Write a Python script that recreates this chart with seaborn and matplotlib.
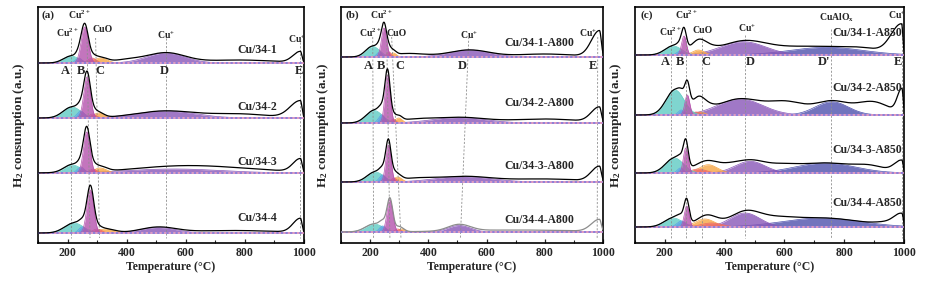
import numpy as np
import pandas as pd
import matplotlib
matplotlib.use("Agg")
import matplotlib.pyplot as plt
import seaborn as sns

# ---------------------------------------------------------------
# Deconvoluted H2-TPR peaks.
# each peak: (component, centre degC, height a.u., width degC)
# ---------------------------------------------------------------
a_names = ["Cu/34-1", "Cu/34-2", "Cu/34-3", "Cu/34-4"]
a_peaks = [
    [("A", 212, 7, 26), ("Bb", 238, 5, 11), ("B", 258, 36, 12), ("r", 283, 5, 14), ("C", 312, 5, 22), ("D", 532, 10, 65)],
    [("A", 215, 11, 30), ("Bb", 245, 7, 12), ("B", 266, 41, 11), ("r", 285, 4, 12), ("C", 305, 5, 18), ("D", 530, 7, 100)],
    [("A", 216, 8, 28), ("Bb", 245, 6, 12), ("B", 265, 41, 11), ("r", 287, 4, 12), ("C", 310, 5, 22), ("D", 560, 4, 160)],
    [("A", 222, 10, 32), ("Bb", 250, 6, 12), ("B", 277, 43, 11.5), ("r", 300, 4, 15), ("C", 330, 4, 30), ("D", 506, 5.5, 60)],
]
# unfitted part of the measured signal: (centre, height, width)
a_extra = [
    [(400, 3, 50), (780, 3, 120)],
    [(780, 4, 100)],
    [(700, 4, 200)],
    [(760, 2.5, 150)],
]
# high temperature Cu+ peak E: (centre, height, left width, right width)
a_edge = [(988, 11, 25, 5), (988, 17, 35, 5), (988, 13, 25, 5), (988, 14, 25, 5)]

b_names = ["Cu/34-1-A800", "Cu/34-2-A800", "Cu/34-3-A800", "Cu/34-4-A800"]
b_peaks = [
    [("A", 209, 10.5, 24), ("Bb", 232, 5, 9), ("B", 248, 29, 9), ("r", 265, 5, 8), ("C", 280, 4, 10), ("D", 540, 7, 70)],
    [("A", 214, 12.5, 28), ("Bb", 240, 8, 11), ("B", 260, 48, 9), ("r", 280, 4, 8), ("C", 298, 5, 12), ("D", 505, 5.5, 90)],
    [("A", 218, 10, 28), ("Bb", 243, 7, 11), ("B", 263, 37, 9), ("r", 282, 4, 9), ("C", 295, 5, 14), ("D", 520, 5.5, 95)],
    [("A", 214, 8, 30), ("Bb", 243, 6, 11), ("B", 268, 32, 10), ("r", 295, 3, 10), ("C", 308, 3, 12), ("D", 506, 6.5, 38)],
]
b_extra = [
    [(330, 3.5, 60), (800, 3, 100)],
    [(350, 3, 60), (800, 4, 120)],
    [(350, 3, 60), (800, 3, 120)],
    [(700, 2, 200)],
]
b_edge = [(988, 26, 28, 6), (988, 15, 28, 6), (988, 15, 28, 6), (988, 12, 28, 6)]

c_names = ["Cu/34-1-A850", "Cu/34-2-A850", "Cu/34-3-A850", "Cu/34-4-A850"]
c_peaks = [
    [("A", 228, 9, 28), ("Bb", 250, 4, 10), ("B", 264, 19, 8), ("C", 312, 5, 20), ("D", 462, 13.3, 75), ("D2", 741, 7.7, 120)],
    [("A", 234, 25, 30), ("Bb", 255, 5, 10), ("B", 275, 20, 8), ("r", 305, 3, 15), ("C", 318, 3, 15), ("D", 451, 16, 75), ("D2", 758, 13.3, 55)],
    [("A", 232, 15, 30), ("Bb", 252, 5, 10), ("B", 270, 25, 8), ("r", 312, 4, 25), ("C", 345, 8.3, 30), ("D", 485, 11.7, 50), ("D2", 736, 10, 100)],
    [("A", 228, 9, 30), ("Bb", 256, 6, 15), ("B", 273, 21, 8), ("r", 356, 4, 35), ("C", 334, 8, 32), ("D", 468, 14, 50), ("D2", 724, 9, 130)],
]
c_extra = [
    [(320, 9, 35), (600, 3, 80), (870, 3, 60)],
    [(320, 10, 28), (610, 12, 60), (895, 13, 55)],
    [(400, 6, 40), (590, 5, 50), (890, 5, 50)],
    [(570, 5, 60), (950, 3, 40)],
]
c_edge = [(992, 30, 35, 4), (993, 24, 15, 4), (993, 12, 25, 4), (993, 11, 25, 4)]

# peak assignments shown above each panel
a_species = ["Cu$^{2+}$", "Cu$^{2+}$", "CuO", "Cu$^{+}$", "Cu$^{+}$"]
c_species = ["Cu$^{2+}$", "Cu$^{2+}$", "CuO", "Cu$^{+}$", "CuAlO$_x$", "Cu$^{+}$"]
a_letters = ["A", "B", "C", "D", "E"]
c_letters = ["A", "B", "C", "D", "D'", "E"]
# guide line positions (top curve, bottom curve), degC
a_guides = [(210, 210), (266, 276), (295, 308), (533, 533), (988, 988)]
b_guides = [(209, 212), (257, 268), (274, 306), (539, 510), (982, 980)]
c_guides = [(219, 219), (270, 270), (325, 325), (469, 469), (755, 755), (992, 992)]

# ---------------------------------------------------------------
# layout (data units on a 0-236 stacked axis)
# ---------------------------------------------------------------
a_offsets = [180, 125, 70, 10]
b_offsets = [186, 120, 61, 11]
c_offsets = [188, 128, 70, 16]
a_name_xy = [(843, 193), (843, 136), (843, 81), (843, 25)]
b_name_xy = [(781, 200), (781, 140), (781, 77), (781, 23)]
c_name_xy = [(878, 210), (878, 155), (878, 93), (878, 40)]
a_species_xy = [(198, 210), (240, 228), (317, 214), (532, 208), (975, 204)]
b_species_xy = [(201, 210), (240, 228), (292, 210), (541, 208), (950, 210)]
c_species_xy = [(217, 211), (273, 228), (326, 213), (474, 215), (775, 225), (975, 228)]
a_letter_x = [193, 246, 308, 529, 984]
b_letter_x = [194, 237, 303, 518, 965]
c_letter_x = [203, 250, 337, 487, 732, 979]
a_guide_top = [205, 205, 205, 205, 201]
b_guide_top = [206, 206, 206, 206, 206]
c_guide_top = [206, 206, 206, 208, 214, 220]

COLORS = {"A": "#5fcbc3", "Bb": "#5c9fe6", "B": "#b553ad", "r": "#ee6868",
          "C": "#f6a545", "D": "#8856b8", "D2": "#4f51ad"}
DRAW_ORDER = ["D2", "D", "C", "r", "A", "Bb", "B"]

temp = np.linspace(100, 1000, 1801)


def gauss(x, c, h, s):
    return h * np.exp(-(x - c) ** 2 / (2.0 * s ** 2))


def edge_peak(x, c, h, sl, sr):
    return gauss(x, c, h, np.where(x < c, sl, sr))


sns.set_style("ticks")
plt.rcParams["font.family"] = ["Liberation Serif", "DejaVu Serif"]
plt.rcParams["font.weight"] = "bold"
plt.rcParams["axes.labelweight"] = "bold"
plt.rcParams["mathtext.default"] = "regular"

fig = plt.figure(figsize=(9.33, 2.85), dpi=100)

panels = [
    dict(rect=[38 / 933, 0.1474, 266 / 933, 0.828], tag="(a)", tag_x=112,
         names=a_names, peaks=a_peaks, extra=a_extra, edge=a_edge, offsets=a_offsets,
         name_xy=a_name_xy, species=a_species, species_xy=a_species_xy,
         letters=a_letters, letter_x=a_letter_x, letter_y=172,
         guides=a_guides, guide_top=a_guide_top, gray_last=False),
    dict(rect=[341 / 933, 0.1474, 262 / 933, 0.828], tag="(b)", tag_x=117,
         names=b_names, peaks=b_peaks, extra=b_extra, edge=b_edge, offsets=b_offsets,
         name_xy=b_name_xy, species=a_species, species_xy=b_species_xy,
         letters=a_letters, letter_x=b_letter_x, letter_y=177,
         guides=b_guides, guide_top=b_guide_top, gray_last=True),
    dict(rect=[635 / 933, 0.1474, 269 / 933, 0.828], tag="(c)", tag_x=119,
         names=c_names, peaks=c_peaks, extra=c_extra, edge=c_edge, offsets=c_offsets,
         name_xy=c_name_xy, species=c_species, species_xy=c_species_xy,
         letters=c_letters, letter_x=c_letter_x, letter_y=181,
         guides=c_guides, guide_top=c_guide_top, gray_last=False),
]

for p in panels:
    ax = fig.add_axes(p["rect"])
    n = len(p["names"])

    # guide lines through the peak maxima
    for (t_top, t_bot), y_top in zip(p["guides"], p["guide_top"]):
        ax.plot([t_top, t_bot], [y_top, 5], color="#8e8e8e", lw=0.6,
                ls=(0, (2.5, 2)), zorder=3)

    for i in range(n):
        base = p["offsets"][i]
        total = np.zeros_like(temp)
        comps = {}
        for comp, c, h, s in p["peaks"][i]:
            comps[comp] = gauss(temp, c, h, s)
            total += comps[comp]
        for c, h, s in p["extra"][i]:
            total += gauss(temp, c, h, s)
        total += edge_peak(temp, *p["edge"][i])

        for comp in DRAW_ORDER:
            if comp not in comps:
                continue
            y = comps[comp]
            ax.fill_between(temp, base, base + y, color=COLORS[comp], alpha=0.8,
                            lw=0, zorder=2)
            ax.plot(temp, base + y, color=COLORS[comp], lw=0.5, zorder=2)

        # dashed fit baseline
        ax.plot([100, 1000], [base, base], color="#f3a2c6", lw=1.1, zorder=3)
        ax.plot([100, 1000], [base, base], color="#7878e0", lw=1.1,
                ls=(0, (1.5, 1.5)), zorder=3)

        line_color = "#8c8c8c" if (p["gray_last"] and i == n - 1) else "black"
        df = pd.DataFrame({"T": temp, "signal": base + total})
        sns.lineplot(data=df, x="T", y="signal", ax=ax, color=line_color,
                     lw=0.9, estimator=None, zorder=4)

        nx, ny = p["name_xy"][i]
        ax.text(nx, ny, p["names"][i], ha="center", va="center", fontsize=8.5,
                zorder=5)

    for label, (sx, sy) in zip(p["species"], p["species_xy"]):
        ax.text(sx, sy, label, ha="center", va="center", fontsize=7, zorder=5)
    for label, lx in zip(p["letters"], p["letter_x"]):
        ax.text(lx, p["letter_y"], label, ha="center", va="center", fontsize=9,
                zorder=5)
    ax.text(p["tag_x"], 228, p["tag"], ha="left", va="center", fontsize=8,
            zorder=5)

    ax.set_xlim(100, 1000)
    ax.set_ylim(0, 236)
    ax.set_xticks([200, 400, 600, 800, 1000])
    ax.set_xticks([100, 300, 500, 700, 900], minor=True)
    ax.set_yticks([])
    ax.tick_params(axis="x", which="major", direction="in", length=3, width=0.9,
                   labelsize=8.5, pad=3)
    ax.tick_params(axis="x", which="minor", direction="in", length=2, width=0.8)
    for sp in ax.spines.values():
        sp.set_visible(True)
        sp.set_linewidth(1.2)
        sp.set_color("black")
    ax.set_xlabel("Temperature (\u00b0C)", fontsize=8.5, labelpad=1)
    ax.set_ylabel("H$_2$ consumption (a.u.)", fontsize=9.5)
    ax.yaxis.set_label_coords(-0.04, 0.5)

fig.savefig("out.png", dpi=100)
